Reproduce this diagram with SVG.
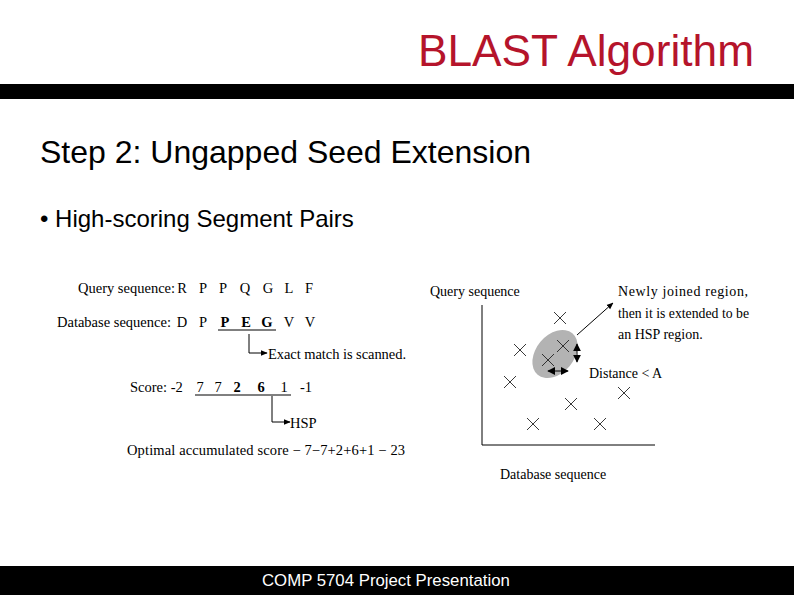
<svg xmlns="http://www.w3.org/2000/svg" width="794" height="595" viewBox="0 0 794 595">
<defs>
<style>
.sans{font-family:"Liberation Sans",Arial,sans-serif}
.ser{font-family:"Liberation Serif","Times New Roman",serif;font-size:14.5px;fill:#000}
.ser2{font-family:"Liberation Serif","Times New Roman",serif;font-size:14px;fill:#000}
.b{font-weight:bold}
.ln{stroke:#000;stroke-width:1;fill:none}
.x{stroke:#222;stroke-width:0.9;fill:none}
</style>
<marker id="ah" viewBox="0 0 10 10" refX="9" refY="5" markerWidth="7" markerHeight="7" orient="auto" markerUnits="userSpaceOnUse">
<path d="M0,1 L10,5 L0,9 z" fill="#000"/>
</marker>
<marker id="ah2" viewBox="0 0 10 10" refX="9" refY="5" markerWidth="8" markerHeight="8" orient="auto-start-reverse" markerUnits="userSpaceOnUse">
<path d="M0,0 L10,5 L0,10 z" fill="#000"/>
</marker>
<path id="cr" d="M-6,-6 L6,6 M-6,6 L6,-6"/>
</defs>
<rect width="794" height="595" fill="#fff"/>
<g id="header">
<text class="sans" x="754" y="66" text-anchor="end" font-size="44" fill="#b5142b" textLength="336" lengthAdjust="spacingAndGlyphs">BLAST Algorithm</text>
<rect x="0" y="84" width="794" height="15" fill="#000"/>
</g>
<g id="heading">
<text class="sans" x="40" y="163" font-size="32" fill="#000">Step 2: Ungapped Seed Extension</text>
<text class="sans" x="40" y="227" font-size="24" fill="#000">• High-scoring Segment Pairs</text>
</g>
<g id="left-figure">
<g id="query-seq">
<text class="ser" x="78" y="293">Query sequence:</text>
<g class="ser" text-anchor="middle">
<text x="182" y="293">R</text><text x="203" y="293">P</text><text x="223" y="293">P</text><text x="245" y="293">Q</text><text x="268" y="293">G</text><text x="289" y="293">L</text><text x="309" y="293">F</text>
</g>
</g>
<g id="db-seq">
<text class="ser" x="57" y="327">Database sequence:</text>
<g class="ser" text-anchor="middle">
<text x="182" y="327">D</text><text x="203" y="327">P</text>
<text class="b" x="225" y="327">P</text><text class="b" x="246" y="327">E</text><text class="b" x="267" y="327">G</text>
<text x="289" y="327">V</text><text x="310" y="327">V</text>
</g>
<line class="ln" x1="218" y1="330" x2="276" y2="330"/>
</g>
<g id="exact-label">
<text class="ser" x="268" y="359" textLength="138" lengthAdjust="spacing">Exact match is scanned.</text>
</g>
<g id="score">
<text class="ser" x="130" y="392">Score: -2</text>
<g class="ser" text-anchor="middle">
<text x="200" y="392">7</text><text x="218" y="392">7</text><text class="b" x="237" y="392">2</text><text class="b" x="261" y="392">6</text><text x="284" y="392">1</text><text x="306" y="392">-1</text>
</g>
<line class="ln" x1="195" y1="395" x2="291" y2="395"/>
</g>
<g id="hsp-label">
<text class="ser" x="290" y="428">HSP</text>
</g>
<g id="optimal">
<text class="ser" x="127" y="455" textLength="278" lengthAdjust="spacing">Optimal accumulated score − 7−7+2+6+1 − 23</text>
</g>
</g>
<g id="right-figure">
<text class="ser2" x="430" y="296">Query sequence</text>
<text class="ser2" x="500" y="479">Database sequence</text>
<g id="axes">
<path class="ln" d="M482,305 L482,445 L655,445" stroke="#333"/>
</g>
<g id="region">
<ellipse cx="555" cy="354" rx="27" ry="19" transform="rotate(-50 555 354)" fill="#b3b3b3"/>
</g>
<g id="points" class="x">
<use href="#cr" x="560" y="318"/>
<use href="#cr" x="520" y="350"/>
<use href="#cr" x="563" y="346"/>
<use href="#cr" x="548" y="360"/>
<use href="#cr" x="510" y="382"/>
<use href="#cr" x="624" y="393"/>
<use href="#cr" x="571" y="404"/>
<use href="#cr" x="533" y="424"/>
<use href="#cr" x="600" y="424"/>
</g>
<g id="newly-label">
<text class="ser2" x="618" y="296" textLength="130" lengthAdjust="spacing">Newly joined region,</text>
<text class="ser2" x="618" y="318" textLength="131" lengthAdjust="spacingAndGlyphs">then it is extended to be</text>
<text class="ser2" x="618" y="339">an HSP region.</text>
</g>
<g id="distance-label">
<text class="ser2" x="589" y="378">Distance &lt; A</text>
</g>
</g>
<g id="connectors">
<path class="ln" d="M249,334 L249,353 L267,353" marker-end="url(#ah)"/>
<path class="ln" d="M272,396 L272,422 L290,422" marker-end="url(#ah)"/>
<line class="ln" x1="577" y1="335" x2="613" y2="303" marker-end="url(#ah)"/>
<line class="ln" x1="577" y1="344" x2="577" y2="362" stroke-width="1.2" marker-start="url(#ah2)" marker-end="url(#ah2)"/>
<line class="ln" x1="548" y1="371" x2="568" y2="371" stroke-width="1.5" marker-start="url(#ah2)" marker-end="url(#ah2)"/>
</g>
<g id="footer">
<rect x="0" y="566" width="794" height="29" fill="#000"/>
<text class="sans" x="262" y="586" font-size="16.8" fill="#fff">COMP 5704 Project Presentation</text>
</g>
</svg>
